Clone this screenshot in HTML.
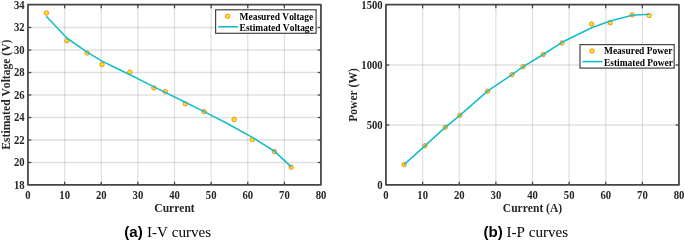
<!DOCTYPE html>
<html><head><meta charset="utf-8"><style>
html,body{margin:0;padding:0;background:#fff;}
body{width:685px;height:241px;overflow:hidden;position:relative;}
svg{position:absolute;left:0;top:0;will-change:transform;}
text{font-kerning:none;font-feature-settings:"kern" 0;}
.tk{font-family:"Liberation Serif",serif;font-weight:bold;font-size:10.7px;fill:#262626;}
.lb{font-family:"Liberation Serif",serif;font-weight:bold;font-size:11.55px;fill:#262626;}
.lg{font-family:"Liberation Serif",serif;font-weight:bold;font-size:9.45px;fill:#000;}
</style></head><body>
<svg width="685" height="241" viewBox="0 0 685 241">
<line x1="64.625" y1="5" x2="64.625" y2="185" stroke="rgba(0,0,0,0.12)" stroke-width="1.3"/>
<line x1="101.25" y1="5" x2="101.25" y2="185" stroke="rgba(0,0,0,0.12)" stroke-width="1.3"/>
<line x1="137.875" y1="5" x2="137.875" y2="185" stroke="rgba(0,0,0,0.12)" stroke-width="1.3"/>
<line x1="174.5" y1="5" x2="174.5" y2="185" stroke="rgba(0,0,0,0.12)" stroke-width="1.3"/>
<line x1="211.125" y1="5" x2="211.125" y2="185" stroke="rgba(0,0,0,0.12)" stroke-width="1.3"/>
<line x1="247.75" y1="5" x2="247.75" y2="185" stroke="rgba(0,0,0,0.12)" stroke-width="1.3"/>
<line x1="284.375" y1="5" x2="284.375" y2="185" stroke="rgba(0,0,0,0.12)" stroke-width="1.3"/>
<line x1="28" y1="162.5" x2="321" y2="162.5" stroke="rgba(0,0,0,0.12)" stroke-width="1.3"/>
<line x1="28" y1="140.0" x2="321" y2="140.0" stroke="rgba(0,0,0,0.12)" stroke-width="1.3"/>
<line x1="28" y1="117.5" x2="321" y2="117.5" stroke="rgba(0,0,0,0.12)" stroke-width="1.3"/>
<line x1="28" y1="95.0" x2="321" y2="95.0" stroke="rgba(0,0,0,0.12)" stroke-width="1.3"/>
<line x1="28" y1="72.5" x2="321" y2="72.5" stroke="rgba(0,0,0,0.12)" stroke-width="1.3"/>
<line x1="28" y1="50.0" x2="321" y2="50.0" stroke="rgba(0,0,0,0.12)" stroke-width="1.3"/>
<line x1="28" y1="27.5" x2="321" y2="27.5" stroke="rgba(0,0,0,0.12)" stroke-width="1.3"/>
<line x1="64.625" y1="185" x2="64.625" y2="181.7" stroke="#444444" stroke-width="1.3"/>
<line x1="64.625" y1="5" x2="64.625" y2="8.3" stroke="#444444" stroke-width="1.3"/>
<line x1="101.25" y1="185" x2="101.25" y2="181.7" stroke="#444444" stroke-width="1.3"/>
<line x1="101.25" y1="5" x2="101.25" y2="8.3" stroke="#444444" stroke-width="1.3"/>
<line x1="137.875" y1="185" x2="137.875" y2="181.7" stroke="#444444" stroke-width="1.3"/>
<line x1="137.875" y1="5" x2="137.875" y2="8.3" stroke="#444444" stroke-width="1.3"/>
<line x1="174.5" y1="185" x2="174.5" y2="181.7" stroke="#444444" stroke-width="1.3"/>
<line x1="174.5" y1="5" x2="174.5" y2="8.3" stroke="#444444" stroke-width="1.3"/>
<line x1="211.125" y1="185" x2="211.125" y2="181.7" stroke="#444444" stroke-width="1.3"/>
<line x1="211.125" y1="5" x2="211.125" y2="8.3" stroke="#444444" stroke-width="1.3"/>
<line x1="247.75" y1="185" x2="247.75" y2="181.7" stroke="#444444" stroke-width="1.3"/>
<line x1="247.75" y1="5" x2="247.75" y2="8.3" stroke="#444444" stroke-width="1.3"/>
<line x1="284.375" y1="185" x2="284.375" y2="181.7" stroke="#444444" stroke-width="1.3"/>
<line x1="284.375" y1="5" x2="284.375" y2="8.3" stroke="#444444" stroke-width="1.3"/>
<line x1="28" y1="162.5" x2="31.3" y2="162.5" stroke="#444444" stroke-width="1.3"/>
<line x1="321" y1="162.5" x2="317.7" y2="162.5" stroke="#444444" stroke-width="1.3"/>
<line x1="28" y1="140.0" x2="31.3" y2="140.0" stroke="#444444" stroke-width="1.3"/>
<line x1="321" y1="140.0" x2="317.7" y2="140.0" stroke="#444444" stroke-width="1.3"/>
<line x1="28" y1="117.5" x2="31.3" y2="117.5" stroke="#444444" stroke-width="1.3"/>
<line x1="321" y1="117.5" x2="317.7" y2="117.5" stroke="#444444" stroke-width="1.3"/>
<line x1="28" y1="95.0" x2="31.3" y2="95.0" stroke="#444444" stroke-width="1.3"/>
<line x1="321" y1="95.0" x2="317.7" y2="95.0" stroke="#444444" stroke-width="1.3"/>
<line x1="28" y1="72.5" x2="31.3" y2="72.5" stroke="#444444" stroke-width="1.3"/>
<line x1="321" y1="72.5" x2="317.7" y2="72.5" stroke="#444444" stroke-width="1.3"/>
<line x1="28" y1="50.0" x2="31.3" y2="50.0" stroke="#444444" stroke-width="1.3"/>
<line x1="321" y1="50.0" x2="317.7" y2="50.0" stroke="#444444" stroke-width="1.3"/>
<line x1="28" y1="27.5" x2="31.3" y2="27.5" stroke="#444444" stroke-width="1.3"/>
<line x1="321" y1="27.5" x2="317.7" y2="27.5" stroke="#444444" stroke-width="1.3"/>
<circle cx="46.4" cy="13.0" r="2.25" fill="#ffe800" stroke="#f4582c" stroke-width="0.65"/>
<circle cx="67" cy="40.8" r="2.25" fill="#ffe800" stroke="#f4582c" stroke-width="0.65"/>
<circle cx="87.1" cy="53.0" r="2.25" fill="#ffe800" stroke="#f4582c" stroke-width="0.65"/>
<circle cx="102" cy="64.6" r="2.25" fill="#ffe800" stroke="#f4582c" stroke-width="0.65"/>
<circle cx="129.8" cy="72.1" r="2.25" fill="#ffe800" stroke="#f4582c" stroke-width="0.65"/>
<circle cx="153.9" cy="88.0" r="2.25" fill="#ffe800" stroke="#f4582c" stroke-width="0.65"/>
<circle cx="165.2" cy="91.6" r="2.25" fill="#ffe800" stroke="#f4582c" stroke-width="0.65"/>
<circle cx="185.3" cy="103.8" r="2.25" fill="#ffe800" stroke="#f4582c" stroke-width="0.65"/>
<circle cx="204" cy="111.6" r="2.25" fill="#ffe800" stroke="#f4582c" stroke-width="0.65"/>
<circle cx="234.1" cy="119.5" r="2.25" fill="#ffe800" stroke="#f4582c" stroke-width="0.65"/>
<circle cx="252.2" cy="139.6" r="2.25" fill="#ffe800" stroke="#f4582c" stroke-width="0.65"/>
<circle cx="274.4" cy="151.5" r="2.25" fill="#ffe800" stroke="#f4582c" stroke-width="0.65"/>
<circle cx="291.2" cy="167.2" r="2.25" fill="#ffe800" stroke="#f4582c" stroke-width="0.65"/>
<polyline points="46.3,16.3 66.8,38.0 87.1,52.1 102,61.1 115,67.5 130,74.8 154,86.9 165.2,92.4 185.3,102.2 204,111.6 227,123.2 234,127.2 252.4,137.4 274.4,151.2 291.2,166.9" fill="none" stroke="rgb(22,190,196)" stroke-width="1.6" stroke-linejoin="round"/>
<rect x="27.95" y="4.7" width="293" height="180.2" fill="none" stroke="#444444" stroke-width="1.75" stroke-linejoin="round"/>
<text transform="translate(28.0,198.7) scale(1,1.12)" text-anchor="middle" class="tk">0</text>
<text transform="translate(64.625,198.7) scale(1,1.12)" text-anchor="middle" class="tk">10</text>
<text transform="translate(101.25,198.7) scale(1,1.12)" text-anchor="middle" class="tk">20</text>
<text transform="translate(137.875,198.7) scale(1,1.12)" text-anchor="middle" class="tk">30</text>
<text transform="translate(174.5,198.7) scale(1,1.12)" text-anchor="middle" class="tk">40</text>
<text transform="translate(211.125,198.7) scale(1,1.12)" text-anchor="middle" class="tk">50</text>
<text transform="translate(247.75,198.7) scale(1,1.12)" text-anchor="middle" class="tk">60</text>
<text transform="translate(284.375,198.7) scale(1,1.12)" text-anchor="middle" class="tk">70</text>
<text transform="translate(321.0,198.7) scale(1,1.12)" text-anchor="middle" class="tk">80</text>
<text transform="translate(24.7,188.9) scale(1,1.12)" text-anchor="end" class="tk">18</text>
<text transform="translate(24.7,166.4) scale(1,1.12)" text-anchor="end" class="tk">20</text>
<text transform="translate(24.7,143.9) scale(1,1.12)" text-anchor="end" class="tk">22</text>
<text transform="translate(24.7,121.4) scale(1,1.12)" text-anchor="end" class="tk">24</text>
<text transform="translate(24.7,98.9) scale(1,1.12)" text-anchor="end" class="tk">26</text>
<text transform="translate(24.7,76.4) scale(1,1.12)" text-anchor="end" class="tk">28</text>
<text transform="translate(24.7,53.9) scale(1,1.12)" text-anchor="end" class="tk">30</text>
<text transform="translate(24.7,31.4) scale(1,1.12)" text-anchor="end" class="tk">32</text>
<text transform="translate(24.7,8.9) scale(1,1.12)" text-anchor="end" class="tk">34</text>
<text x="174.5" y="212.2" text-anchor="middle" class="lb">Current</text>
<text transform="translate(9.85,94.6) rotate(-90)" text-anchor="middle" class="lb" style="font-size:11.6px">Estimated Voltage (V)</text>
<rect x="215.6" y="9.8" width="100.50000000000003" height="23.499999999999996" fill="#fff" stroke="#444444" stroke-width="1.2"/>
<circle cx="227.6" cy="16.200000000000003" r="2.25" fill="#ffe800" stroke="#f4582c" stroke-width="0.65"/>
<line x1="218.2" y1="26.8" x2="238.0" y2="26.8" stroke="rgb(22,190,196)" stroke-width="1.6"/>
<text x="239.6" y="19.6" class="lg">Measured Voltage</text>
<text x="239.6" y="30.95" class="lg">Estimated Voltage</text>
<line x1="422.625" y1="5" x2="422.625" y2="185" stroke="rgba(0,0,0,0.12)" stroke-width="1.3"/>
<line x1="459.25" y1="5" x2="459.25" y2="185" stroke="rgba(0,0,0,0.12)" stroke-width="1.3"/>
<line x1="495.875" y1="5" x2="495.875" y2="185" stroke="rgba(0,0,0,0.12)" stroke-width="1.3"/>
<line x1="532.5" y1="5" x2="532.5" y2="185" stroke="rgba(0,0,0,0.12)" stroke-width="1.3"/>
<line x1="569.125" y1="5" x2="569.125" y2="185" stroke="rgba(0,0,0,0.12)" stroke-width="1.3"/>
<line x1="605.75" y1="5" x2="605.75" y2="185" stroke="rgba(0,0,0,0.12)" stroke-width="1.3"/>
<line x1="642.375" y1="5" x2="642.375" y2="185" stroke="rgba(0,0,0,0.12)" stroke-width="1.3"/>
<line x1="386" y1="125" x2="679" y2="125" stroke="rgba(0,0,0,0.12)" stroke-width="1.3"/>
<line x1="386" y1="65" x2="679" y2="65" stroke="rgba(0,0,0,0.12)" stroke-width="1.3"/>
<line x1="422.625" y1="185" x2="422.625" y2="181.7" stroke="#444444" stroke-width="1.3"/>
<line x1="422.625" y1="5" x2="422.625" y2="8.3" stroke="#444444" stroke-width="1.3"/>
<line x1="459.25" y1="185" x2="459.25" y2="181.7" stroke="#444444" stroke-width="1.3"/>
<line x1="459.25" y1="5" x2="459.25" y2="8.3" stroke="#444444" stroke-width="1.3"/>
<line x1="495.875" y1="185" x2="495.875" y2="181.7" stroke="#444444" stroke-width="1.3"/>
<line x1="495.875" y1="5" x2="495.875" y2="8.3" stroke="#444444" stroke-width="1.3"/>
<line x1="532.5" y1="185" x2="532.5" y2="181.7" stroke="#444444" stroke-width="1.3"/>
<line x1="532.5" y1="5" x2="532.5" y2="8.3" stroke="#444444" stroke-width="1.3"/>
<line x1="569.125" y1="185" x2="569.125" y2="181.7" stroke="#444444" stroke-width="1.3"/>
<line x1="569.125" y1="5" x2="569.125" y2="8.3" stroke="#444444" stroke-width="1.3"/>
<line x1="605.75" y1="185" x2="605.75" y2="181.7" stroke="#444444" stroke-width="1.3"/>
<line x1="605.75" y1="5" x2="605.75" y2="8.3" stroke="#444444" stroke-width="1.3"/>
<line x1="642.375" y1="185" x2="642.375" y2="181.7" stroke="#444444" stroke-width="1.3"/>
<line x1="642.375" y1="5" x2="642.375" y2="8.3" stroke="#444444" stroke-width="1.3"/>
<line x1="386" y1="125" x2="389.3" y2="125" stroke="#444444" stroke-width="1.3"/>
<line x1="679" y1="125" x2="675.7" y2="125" stroke="#444444" stroke-width="1.3"/>
<line x1="386" y1="65" x2="389.3" y2="65" stroke="#444444" stroke-width="1.3"/>
<line x1="679" y1="65" x2="675.7" y2="65" stroke="#444444" stroke-width="1.3"/>
<circle cx="404.1" cy="164.6" r="2.25" fill="#ffe800" stroke="#f4582c" stroke-width="0.65"/>
<circle cx="424.9" cy="145.8" r="2.25" fill="#ffe800" stroke="#f4582c" stroke-width="0.65"/>
<circle cx="445.2" cy="127.3" r="2.25" fill="#ffe800" stroke="#f4582c" stroke-width="0.65"/>
<circle cx="459.9" cy="115.3" r="2.25" fill="#ffe800" stroke="#f4582c" stroke-width="0.65"/>
<circle cx="487.5" cy="91.2" r="2.25" fill="#ffe800" stroke="#f4582c" stroke-width="0.65"/>
<circle cx="512" cy="74.6" r="2.25" fill="#ffe800" stroke="#f4582c" stroke-width="0.65"/>
<circle cx="523.2" cy="66.6" r="2.25" fill="#ffe800" stroke="#f4582c" stroke-width="0.65"/>
<circle cx="543.3" cy="54.5" r="2.25" fill="#ffe800" stroke="#f4582c" stroke-width="0.65"/>
<circle cx="562" cy="43" r="2.25" fill="#ffe800" stroke="#f4582c" stroke-width="0.65"/>
<circle cx="591.7" cy="24.1" r="2.25" fill="#ffe800" stroke="#f4582c" stroke-width="0.65"/>
<circle cx="610.2" cy="22.7" r="2.25" fill="#ffe800" stroke="#f4582c" stroke-width="0.65"/>
<circle cx="632.2" cy="14.9" r="2.25" fill="#ffe800" stroke="#f4582c" stroke-width="0.65"/>
<circle cx="649.1" cy="15.4" r="2.25" fill="#ffe800" stroke="#f4582c" stroke-width="0.65"/>
<polyline points="404.1,164.6 424.9,145.8 445.2,127.3 459.9,115.3 487.5,91.2 512,74.6 523.2,66.6 543.3,54.5 562,42.3 591.7,27.8 610.2,21 632.2,15.2 649.1,14.3" fill="none" stroke="rgb(22,190,196)" stroke-width="1.6" stroke-linejoin="round"/>
<rect x="385.95" y="4.7" width="293" height="180.2" fill="none" stroke="#444444" stroke-width="1.75" stroke-linejoin="round"/>
<text transform="translate(386.0,198.7) scale(1,1.12)" text-anchor="middle" class="tk">0</text>
<text transform="translate(422.625,198.7) scale(1,1.12)" text-anchor="middle" class="tk">10</text>
<text transform="translate(459.25,198.7) scale(1,1.12)" text-anchor="middle" class="tk">20</text>
<text transform="translate(495.875,198.7) scale(1,1.12)" text-anchor="middle" class="tk">30</text>
<text transform="translate(532.5,198.7) scale(1,1.12)" text-anchor="middle" class="tk">40</text>
<text transform="translate(569.125,198.7) scale(1,1.12)" text-anchor="middle" class="tk">50</text>
<text transform="translate(605.75,198.7) scale(1,1.12)" text-anchor="middle" class="tk">60</text>
<text transform="translate(642.375,198.7) scale(1,1.12)" text-anchor="middle" class="tk">70</text>
<text transform="translate(679.0,198.7) scale(1,1.12)" text-anchor="middle" class="tk">80</text>
<text transform="translate(382.7,188.9) scale(1,1.12)" text-anchor="end" class="tk">0</text>
<text transform="translate(382.7,128.9) scale(1,1.12)" text-anchor="end" class="tk">500</text>
<text transform="translate(382.7,68.9) scale(1,1.12)" text-anchor="end" class="tk">1000</text>
<text transform="translate(382.7,8.9) scale(1,1.12)" text-anchor="end" class="tk">1500</text>
<text x="532.5" y="212.2" text-anchor="middle" class="lb">Current (A)</text>
<text transform="translate(356.8,95) rotate(-90)" text-anchor="middle" class="lb" style="font-size:11.55px">Power (W)</text>
<rect x="580" y="44.6" width="94.20000000000005" height="23.499999999999993" fill="#fff" stroke="#444444" stroke-width="1.2"/>
<circle cx="592" cy="51.0" r="2.25" fill="#ffe800" stroke="#f4582c" stroke-width="0.65"/>
<line x1="582.6" y1="61.6" x2="602.4" y2="61.6" stroke="rgb(22,190,196)" stroke-width="1.6"/>
<text x="604" y="54.400000000000006" class="lg">Measured Power</text>
<text x="604" y="65.75" class="lg">Estimated Power</text>
<text y="237.2" class="cp"><tspan x="124.3" class="cpb">(a)</tspan><tspan x="147.0">I-V curves</tspan></text>
<text y="237.2" class="cp"><tspan x="483.4" class="cpb">(b)</tspan><tspan x="506.5">I-P curves</tspan></text>
</svg>
<style>
.cp{font-family:"Liberation Serif",serif;font-size:15.1px;fill:#000;}
.cpb{font-family:"Liberation Sans",sans-serif;font-weight:bold;}
</style>
</body></html>
